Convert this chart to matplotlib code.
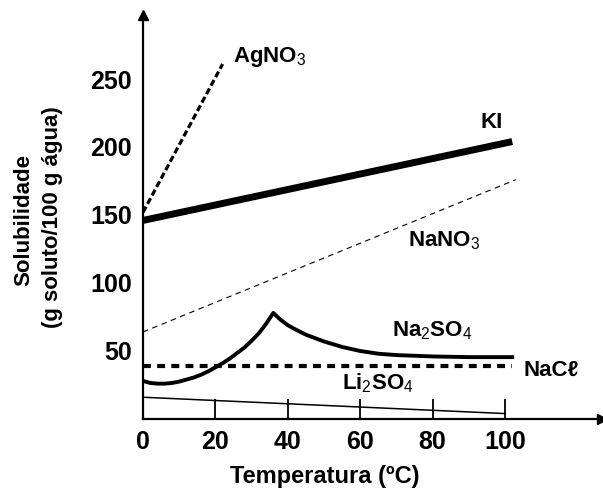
import numpy as np
import matplotlib
matplotlib.use("Agg")
import matplotlib.pyplot as plt

plt.rcParams['font.family'] = ['Liberation Sans', 'DejaVu Sans']
plt.rcParams['mathtext.fontset'] = 'custom'
plt.rcParams['mathtext.rm'] = 'Liberation Sans'
plt.rcParams['mathtext.default'] = 'rm'

# solubility curves (g soluto / 100 g agua)
agno3_t = [0, 22]
agno3_s = [152, 261]
ki_t = [0, 102]
ki_s = [146, 204]
nano3_t = [0, 103]
nano3_s = [64, 176]
na2so4_t = [0, 2, 4, 6, 8, 10, 12, 14, 16, 18, 20, 22, 24, 26, 28, 30, 32, 34, 36,
            38, 40, 42, 45, 50, 55, 60, 65, 70, 75, 80, 90, 102]
na2so4_s = [28, 26.5, 26, 26, 26.5, 27.5, 29, 30.5, 32.5, 35, 38, 41, 44.5, 48.5, 52.5,
            57.5, 63, 70, 78, 73, 69, 66, 62, 57, 53, 50, 48, 47, 46.5, 46, 45.5, 45.5]
nacl_t = [0, 102]
nacl_s = [39, 39]
li2so4_t = [0, 100]
li2so4_s = [16, 4]

xticks = [0, 20, 40, 60, 80, 100]
yticks = [50, 100, 150, 200, 250]

fig = plt.figure(figsize=(6.03, 4.88), dpi=100)
ax = fig.add_axes([143/603, (488-419)/488, (602-143)/603, (419-15)/488])

ax.plot(agno3_t, agno3_s, color='black', lw=2.3, linestyle=(0, (2, 1)), solid_capstyle='butt')
ax.plot(ki_t, ki_s, color='black', lw=5.0, solid_capstyle='butt')
ax.plot(nano3_t, nano3_s, color='black', lw=0.8, linestyle=(0, (5, 4)))
ax.plot(na2so4_t, na2so4_s, color='black', lw=2.8)
ax.plot(nacl_t, nacl_s, color='black', lw=3.0, linestyle=(0, (1.9, 1.5)))
ax.plot(li2so4_t, li2so4_s, color='black', lw=1.1)

ax.set_xlim(0, (602-143)/3.62)
ax.set_ylim(0, (419-15)/1.36)
for s in ['top', 'right']:
    ax.spines[s].set_visible(False)
for s in ['left', 'bottom']:
    ax.spines[s].set_linewidth(1.6)

ax.plot(1, 0, '>', color='black', ms=7, transform=ax.transAxes, clip_on=False)
ax.plot(0, 1, '^', color='black', ms=7, transform=ax.transAxes, clip_on=False)

ax.set_xticks(xticks)
ax.set_xticklabels([str(v) for v in xticks], fontsize=18, fontweight='bold')
ax.tick_params(axis='x', direction='in', length=14.5, width=1.3, pad=8)
ax.set_yticks(yticks)
ax.set_yticklabels([str(v) for v in yticks], fontsize=18, fontweight='bold')
ax.tick_params(axis='y', length=0, pad=8)

ax.set_xlabel('Temperatura (ºC)', fontsize=17, fontweight='bold')
ax.xaxis.set_label_coords((325-143)/(602-143), -(465-419)/(419-15))
fig.text(24/603, 1 - 220/488, 'Solubilidade', rotation=90, fontsize=16,
         fontweight='bold', ha='center', va='center')
fig.text(53/603, 1 - 217/488, '(g soluto/100 g água)', rotation=90, fontsize=16,
         fontweight='bold', ha='center', va='center')

lab = dict(fontsize=16, fontweight='bold', va='center')
ax.text(24.9, 266, r'AgNO$_3$', ha='left', **lab)
ax.text(96.4, 218, 'KI', ha='center', **lab)
ax.text(73.2, 131, r'NaNO$_3$', ha='left', **lab)
ax.text(68.8, 65, r'Na$_2$SO$_4$', ha='left', **lab)
ax.text(105, 36, 'NaCℓ', ha='left', **lab)
ax.text(55, 26, r'Li$_2$SO$_4$', ha='left', **lab)

fig.savefig('out.png', dpi=100)
